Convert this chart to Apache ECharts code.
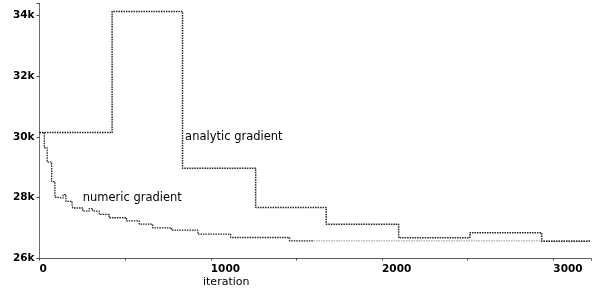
<!DOCTYPE html>
<html><head><meta charset="utf-8">
<script src="https://cdn.jsdelivr.net/npm/echarts@6/dist/echarts.min.js"></script>
<style>html,body{margin:0;padding:0;background:#fff}#c{width:599px;height:289px}</style>
</head><body><div id="c"></div>
<script>
// analytic gradient: step start iterations and values
const analyticIter = [0, 424, 835, 1262, 1674, 2097, 2513, 2932, 3218];
const analyticVal  = [30140, 34120, 28970, 27680, 27130, 26680, 26850, 26570, 26570];
// numeric gradient (dark part)
const numericIter = [0, 28, 45, 71, 90, 100, 138, 154, 190, 195, 252, 290, 310, 349, 407, 508, 582, 660, 771, 925, 1116, 1460, 1600];
const numericVal  = [30140, 29640, 29170, 28530, 28020, 27990, 28100, 27880, 27770, 27660, 27560, 27640, 27560, 27450, 27340, 27240, 27130, 27010, 26930, 26800, 26690, 26580, 26580];
// numeric gradient (faint tail)
const numericTailIter = [1600, 3218];
const numericTailVal  = [26580, 26580];
const xTicks = [0, 1000, 2000, 3000];
const yTicks = [26000, 28000, 30000, 32000, 34000];
const seriesNames = ['analytic gradient', 'numeric gradient'];

const zip = (a, b) => a.map((v, i) => [v, b[i]]);
const chart = echarts.init(document.getElementById('c'), null, {renderer: 'canvas'});
const lab = {fontFamily: 'DejaVu Sans', fontSize: 11.5, color: '#000'};
chart.setOption({
  animation: false,
  backgroundColor: '#fff',
  grid: {left: 39.5, right: 8, top: 3, bottom: 30.5},
  xAxis: {
    type: 'value', min: 0, max: 3220, interval: 1000,
    splitLine: {show: false},
    axisLine: {lineStyle: {color: '#555', width: 1, type: [3, 1]}},
    axisTick: {length: 2, inside: false, lineStyle: {color: '#444'}},
    minorTick: {show: true, splitNumber: 2, length: 2, lineStyle: {color: '#444'}},
    axisLabel: {align: 'left', margin: 5, fontFamily: 'DejaVu Sans', fontWeight: 'bold', fontSize: 10.5, color: '#000',
      formatter: v => xTicks.includes(v) ? String(v) : ''}
  },
  yAxis: {
    type: 'value', min: 26000, max: 34400, interval: 2000,
    splitLine: {show: false},
    axisLine: {show: true, lineStyle: {color: '#666', width: 1, type: [3, 1]}},
    axisTick: {show: true, length: 3, lineStyle: {color: '#444'}},
    axisLabel: {margin: 5, fontFamily: 'DejaVu Sans', fontWeight: 'bold', fontSize: 10.5, color: '#000',
      formatter: v => yTicks.includes(v) ? (v / 1000) + 'k' : ''}
  },
  graphic: [{type: 'text', left: 203, top: 277, style: {text: 'iteration', font: '11px "DejaVu Sans"', fill: '#000'}}],
  series: [
    {name: seriesNames[0], type: 'line', step: 'end', symbol: 'none', data: zip(analyticIter, analyticVal),
      lineStyle: {color: '#222', width: 1.5, type: [1.5, 1]},
      markPoint: {symbol: 'circle', symbolSize: 0, data: [{coord: [850, 30010], value: seriesNames[0]}],
        label: {show: true, position: 'right', distance: 0, formatter: seriesNames[0], ...lab}}},
    {name: seriesNames[1], type: 'line', step: 'end', symbol: 'none', data: zip(numericIter, numericVal),
      lineStyle: {color: '#222', width: 1.3, type: [1.5, 1]},
      markPoint: {symbol: 'circle', symbolSize: 0, data: [{coord: [252, 28000], value: seriesNames[1]}],
        label: {show: true, position: 'right', distance: 0, formatter: seriesNames[1], ...lab}}},
    {name: seriesNames[1] + ' tail', type: 'line', step: 'end', symbol: 'none', data: zip(numericTailIter, numericTailVal),
      lineStyle: {color: '#aaa', width: 1.3, type: [1.5, 1]}, z: 1}
  ]
});
</script></body></html>
